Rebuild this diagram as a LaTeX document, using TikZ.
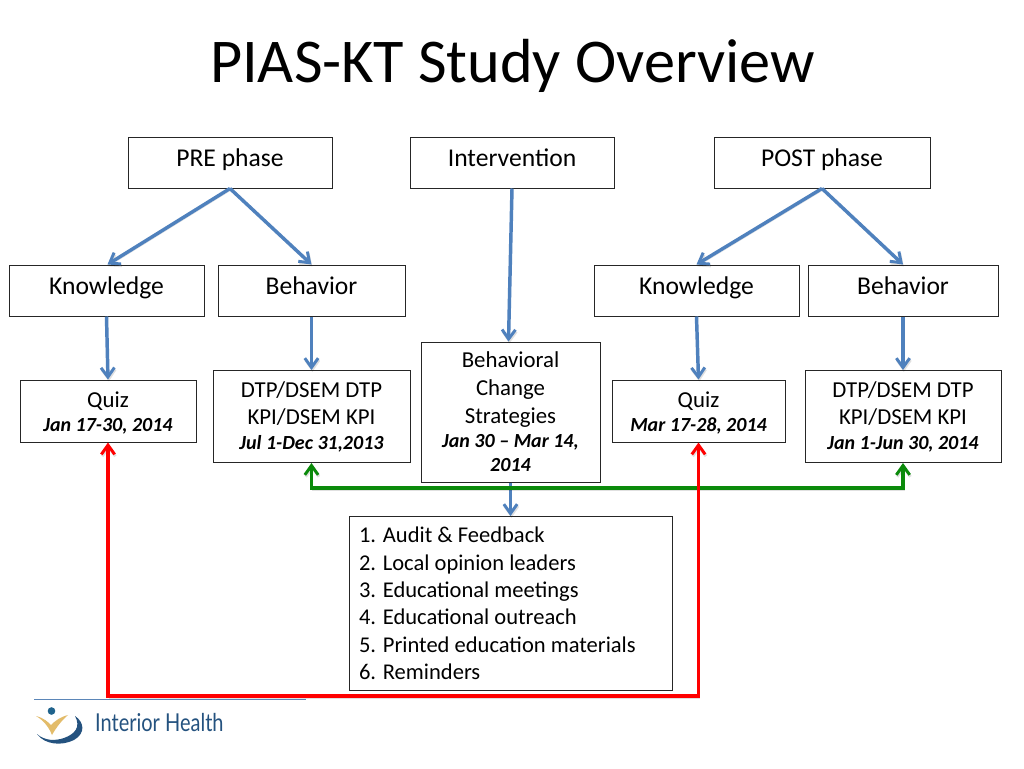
\documentclass[tikz,border=0pt]{standalone}
\usepackage{fontspec}
\setmainfont{Carlito}
\newfontfamily\logofont{Lato}
\usetikzlibrary{arrows.meta,calc}
\def\px{0.75pt}
\definecolor{flowblue}{HTML}{4F81BD}
\definecolor{flowgreen}{HTML}{0B8A0B}
\definecolor{logoblue}{HTML}{24527F}
\definecolor{logogold}{HTML}{E3BC6A}
\definecolor{rulecol}{HTML}{5B86B8}
\tikzset{
  box/.style={draw=black!85,line width=0.75pt,fill=white,inner sep=0pt,align=center,text=black},
  head/.style={box,font=\fontsize{19.2}{23}\selectfont,text height=14pt,text depth=8.5pt},
  mid/.style={box,font=\fontsize{17.1}{20.7}\selectfont},
  flow/.style={line width=2.6pt,-{Straight Barb[length=7pt,width=10pt,line width=2.2pt]},draw=flowblue,
    preaction={draw=black,draw opacity=0.12,transform canvas={xshift=0.6pt,yshift=-1.4pt}}},
  loopgreen/.style={flow,line width=2.3pt,draw=flowgreen,{Straight Barb[length=7pt,width=10pt,line width=2.2pt]}-{Straight Barb[length=7pt,width=10pt,line width=2.2pt]}},
  loopred/.style={flow,line width=2.3pt,draw=red,{Straight Barb[length=7pt,width=10pt,line width=2.2pt]}-{Straight Barb[length=7pt,width=10pt,line width=2.2pt]}},
}
\newcommand{\dated}[1]{{\fontsize{15}{18}\selectfont\bfseries\itshape #1}}
\begin{document}
\begin{tikzpicture}[x=0.75pt,y=-0.75pt]
\useasboundingbox[fill=white] (0,0) rectangle (1024,768);
\node[font=\fontsize{46.7}{56}\selectfont,anchor=center] (title) at (512.5,65.5) {PIAS-KT Study Overview};

\node[head,minimum width=204*\px,minimum height=51*\px] (pre) at (230,162.5) {PRE phase};
\node[head,minimum width=204*\px,minimum height=51*\px] (int) at (512,162.5) {Intervention};
\node[head,minimum width=216*\px,minimum height=51*\px] (post) at (822,162.5) {POST phase};

\node[head,minimum width=195*\px,minimum height=51*\px] (kl) at (106.5,290.5) {Knowledge};
\node[head,minimum width=187*\px,minimum height=51*\px] (bl) at (311.5,290.5) {Behavior};
\node[head,minimum width=205*\px,minimum height=51*\px] (kr) at (696.5,290.5) {Knowledge};
\node[head,minimum width=190*\px,minimum height=51*\px] (br) at (903,290.5) {Behavior};

\node[mid,minimum width=176*\px,minimum height=62*\px] (ql) at (108,411) {\rule{0pt}{15pt}Quiz\\[-2.5pt]\dated{Jan 17-30, 2014}};
\node[mid,minimum width=197*\px,minimum height=92*\px] (dl) at (311.5,416.5) {DTP/DSEM DTP\\KPI/DSEM KPI\\[-2.5pt]\dated{Jul 1-Dec 31,2013}};
\node[mid,minimum width=179*\px,minimum height=140*\px] (bcs) at (510.5,412) {Behavioral\\Change\\Strategies\\[-2.5pt]\dated{Jan 30 -- Mar 14,}\\[-2.5pt]\dated{2014}};
\node[mid,minimum width=173*\px,minimum height=62*\px] (qr) at (698.5,411) {\rule{0pt}{15pt}Quiz\\[-2.5pt]\dated{Mar 17-28, 2014}};
\node[mid,minimum width=196*\px,minimum height=92*\px] (dr) at (903,416.5) {DTP/DSEM DTP\\KPI/DSEM KPI\\[-2.5pt]\dated{Jan 1-Jun 30, 2014}};

\node[mid,font=\fontsize{16.9}{20.6}\selectfont,minimum width=323*\px,minimum height=174*\px,align=flush left,text width=303*\px] (list) at (510.5,603.5)
  {1. Audit \& Feedback\\2. Local opinion leaders\\3. Educational meetings\\4. Educational outreach\\5. Printed education materials\\6. Reminders};

\coordinate (redl) at (ql.south |- 0,696);
\coordinate (redr) at (qr.south |- 0,696);
\coordinate (grnl) at (dl.south |- 0,488);
\coordinate (grnr) at (dr.south |- 0,488);

\draw[flow] (pre.south) -- ([xshift=0.75pt]kl.north);
\draw[flow] (pre.south) -- (bl.north);
\draw[flow] (int.south) -- ([xshift=-1.5pt]bcs.north);
\draw[flow] (post.south) -- (kr.north);
\draw[flow] (post.south) -- (br.north);
\draw[flow] (kl.south) -- (ql.north);
\draw[flow] (bl.south) -- (dl.north);
\draw[flow] (kr.south) -- (qr.north);
\draw[flow] (br.south) -- (dr.north);
\draw[flow] (bcs.south) -- (list.north);
\draw[loopgreen] (dl.south) -- (grnl) -- (grnr) -- (dr.south);
\draw[loopred] (ql.south) -- (redl) -- (redr) -- (qr.south);

% footer
\draw[rulecol,line width=0.6pt] (34,699.5) -- (306,699.5);
\fill[logoblue!90!cyan] (51.5,711) circle (3.8);
\fill[logogold] (36,716) .. controls (44,718) and (48,722) .. (51,725) .. controls (55,721) and (60,717) .. (68,715) .. controls (61,721) and (56,728) .. (52,735) .. controls (49,727) and (43,720) .. (36,716) -- cycle;
\fill[logoblue] (37,734) .. controls (45,741) and (55,741) .. (64,738) .. controls (75,734) and (81,727) .. (75,716) .. controls (84,722) and (86,733) .. (74,740) .. controls (62,746) and (45,745) .. (37,734) -- cycle;
\node[font=\logofont\fontsize{18.5}{22}\selectfont,text=logoblue,anchor=west,inner sep=0pt,transform shape,xscale=0.81] (brand) at (95,723) {Interior Health};
\end{tikzpicture}
\end{document}
